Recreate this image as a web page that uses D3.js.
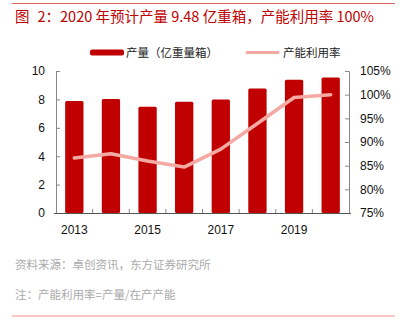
<!DOCTYPE html>
<html>
<head>
<meta charset="utf-8">
<script src="https://cdn.jsdelivr.net/npm/d3@7"></script>
<style>
  body { margin: 0; background: #fff; }
  svg { display: block; }
</style>
</head>
<body>
<svg></svg>
<script>
let years = ["2013", "2014", "2015", "2016", "2017", "2018", "2019", "2020"];
let output = [7.88, 8.02, 7.48, 7.83, 8.0, 8.77, 9.38, 9.55];
let utilization = [86.6, 87.5, 86.0, 84.7, 88.5, 93.9, 99.4, 100.0];
let leftTicks = [0, 2, 4, 6, 8, 10];
let rightTicks = [75, 80, 85, 90, 95, 100, 105];
let yearLabels = ["2013", "2015", "2017", "2019"];

let width = 402;
let height = 321;
let plotLeft = 56;
let plotRight = 349;
let plotTop = 71;
let plotBottom = 213;

let barColor = "#c00000";
let lineColor = "#f4a9a3";
let cjk = "'Noto Sans CJK SC', sans-serif";
let latin = "'Liberation Sans', Arial, sans-serif";

let svg = d3.select("svg").attr("width", width).attr("height", height);

let xScale = d3.scaleBand().domain(years).range([plotLeft, plotRight]).paddingInner(0.5).paddingOuter(0.25);
let xStep = d3.scaleBand().domain(years).range([plotLeft, plotRight]);
let yLeft = d3.scaleLinear().domain([0, 10]).range([plotBottom, plotTop]);
let yRight = d3.scaleLinear().domain([75, 105]).range([plotBottom, plotTop]);

// top and bottom rules
svg.append("line").attr("x1", 12).attr("x2", 395).attr("y1", 3.5).attr("y2", 3.5)
  .attr("stroke", "#e06060").attr("stroke-width", 1);
svg.append("line").attr("x1", 12).attr("x2", 395).attr("y1", 316).attr("y2", 316)
  .attr("stroke", "#f08a84").attr("stroke-width", 1);

// title
let title = svg.append("text").attr("x", 15).attr("y", 21.5)
  .attr("font-family", cjk).attr("font-size", 14.5).attr("fill", barColor);
title.append("tspan").text("图");
title.append("tspan").attr("dx", 8).text("2：2020 年预计产量 9.48 亿重箱，产能利用率 100%");

// legend
svg.append("rect").attr("x", 90).attr("y", 49.5).attr("width", 34).attr("height", 6).attr("rx", 2).attr("fill", barColor);
svg.append("text").attr("x", 126).attr("y", 57).attr("font-family", cjk).attr("font-size", 11.5).attr("fill", "#222")
  .text("产量（亿重量箱）");
svg.append("line").attr("x1", 247).attr("x2", 278).attr("y1", 52.5).attr("y2", 52.5)
  .attr("stroke", lineColor).attr("stroke-width", 3).attr("stroke-linecap", "round");
svg.append("text").attr("x", 283).attr("y", 57).attr("font-family", cjk).attr("font-size", 11.5).attr("fill", "#222")
  .text("产能利用率");

// bars
svg.selectAll(".bar").data(output).enter().append("rect")
  .attr("class", "bar")
  .attr("x", (d, i) => xScale(years[i]))
  .attr("width", xScale.bandwidth())
  .attr("y", (d) => yLeft(d))
  .attr("height", (d) => yLeft(0) - yLeft(d))
  .attr("rx", 1.5)
  .attr("fill", barColor);

// axes
let axisColor = "#888";
let gl = svg.append("g").attr("transform", "translate(" + plotLeft + ",0)")
  .call(d3.axisLeft(yLeft).tickValues(leftTicks).tickSize(-4).tickPadding(11));
let gr = svg.append("g").attr("transform", "translate(" + plotRight + ",0)")
  .call(d3.axisRight(yRight).tickValues(rightTicks).tickSize(-4).tickPadding(11).tickFormat((d) => d + "%"));
[gl, gr].forEach((g) => {
  g.select(".domain").attr("stroke", axisColor);
  g.selectAll(".tick line").attr("stroke", axisColor);
  g.selectAll("text").attr("font-family", latin).attr("font-size", 12).attr("fill", "#111");
});

let gx = svg.append("g").attr("transform", "translate(0," + plotBottom + ")");
gx.append("line").attr("x1", plotLeft - 2).attr("x2", plotRight + 2).attr("y1", 0.5).attr("y2", 0.5).attr("stroke", "#555");
gx.selectAll(".xt").data(years.slice(1)).enter().append("line")
  .attr("x1", (d) => xStep(d)).attr("x2", (d) => xStep(d))
  .attr("y1", 0).attr("y2", -4).attr("stroke", axisColor);
gx.selectAll(".xl").data(yearLabels).enter().append("text")
  .attr("x", (d) => xScale(d) + xScale.bandwidth() / 2)
  .attr("y", 21)
  .attr("text-anchor", "middle")
  .attr("font-family", latin).attr("font-size", 12).attr("fill", "#111")
  .text((d) => d);

// utilization line
let line = d3.line()
  .x((d, i) => xScale(years[i]) + xScale.bandwidth() / 2)
  .y((d) => yRight(d));
svg.append("path").datum(utilization)
  .attr("d", line)
  .attr("fill", "none")
  .attr("stroke", lineColor)
  .attr("stroke-width", 3.5)
  .attr("stroke-linejoin", "round")
  .attr("stroke-linecap", "round");

// footer
svg.append("text").attr("x", 15).attr("y", 268.5).attr("font-family", cjk).attr("font-size", 11.5).attr("fill", "#aaa")
  .text("资料来源：卓创资讯，东方证券研究所");
svg.append("text").attr("x", 15).attr("y", 299).attr("font-family", cjk).attr("font-size", 11.5).attr("fill", "#aaa")
  .text("注：产能利用率=产量/在产产能");
</script>
</body>
</html>
